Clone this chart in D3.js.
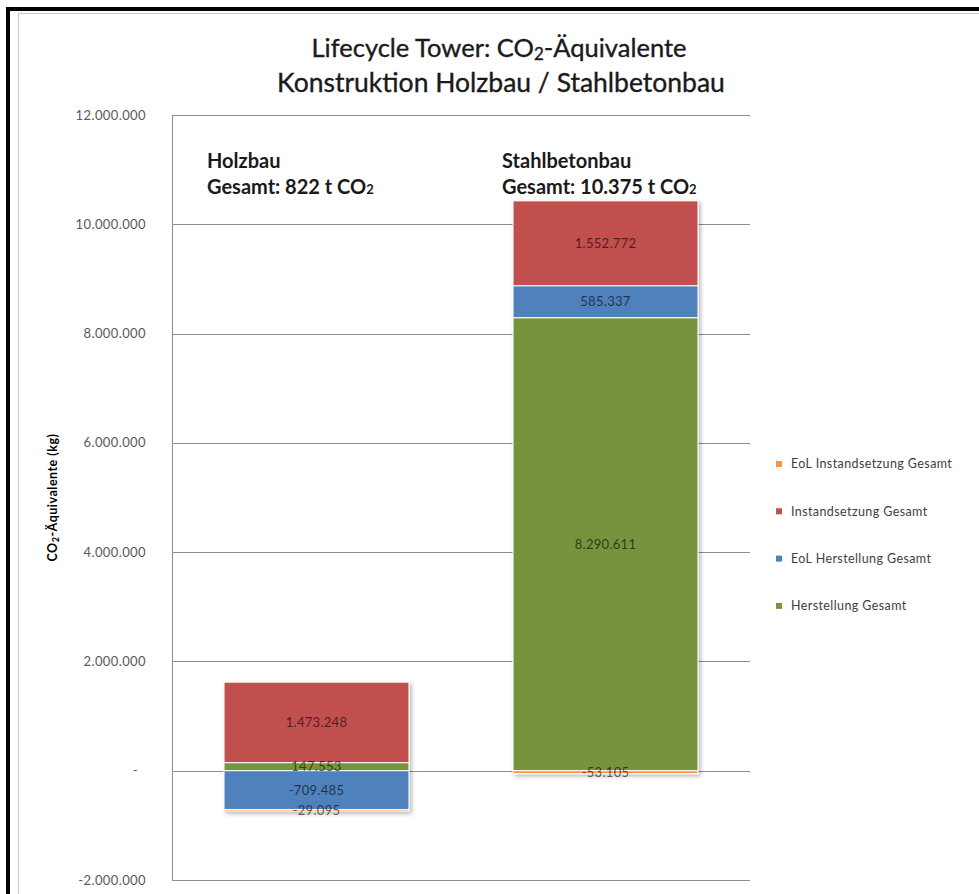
<!DOCTYPE html>
<html lang="de">
<head>
  <meta charset="UTF-8" />
  <title>Lifecycle Tower: CO2-Äquivalente</title>
  <script src="https://d3js.org/d3.v7.min.js"></script>
  <style>
    body { margin: 0; background: #fff; font-family: Lato, "Open Sans", sans-serif; }
    .tick-label { font-size: 13px; letter-spacing: 0.4px; fill: #595959; }
    .legend text { font-size: 12.5px; letter-spacing: 0.4px; fill: #404040; }
    .seg-label { font-size: 13px; letter-spacing: 0.3px; fill: #000; fill-opacity: 0.62; }
  </style>
</head>
<body>
  <svg width="979" height="894"></svg>

  <script>
  // categories, series, values (kg CO2-Äquivalente)
  const buildings = ["Holzbau", "Stahlbetonbau"];
  const seriesNames = ["Herstellung Gesamt", "EoL Herstellung Gesamt", "Instandsetzung  Gesamt", "EoL Instandsetzung  Gesamt"];
  const seriesKeys = ["herst", "eolHerst", "inst", "eolInst"];
  const herstellung = [147553, 8290611];
  const eolHerstellung = [-709485, 585337];
  const instandsetzung = [1473248, 1552772];
  const eolInstandsetzung = [-29095, -53105];
  const totalLabels = ["822", "10.375"];
  const yTicks = [-2000000, 0, 2000000, 4000000, 6000000, 8000000, 10000000, 12000000];
  const colors = ["#77933C", "#4F81BD", "#C0504D", "#F79646"];

  const svg = d3.select("svg");

  // frame
  svg.append("rect").attr("x", 8).attr("y", 9).attr("width", 1000).attr("height", 1000)
    .attr("fill", "none").attr("stroke", "#000").attr("stroke-width", 4);
  svg.append("rect").attr("x", 18.5).attr("y", 13.5).attr("width", 1000).attr("height", 1000)
    .attr("fill", "none").attr("stroke", "#c8c8c8").attr("stroke-width", 1);

  const de = d3.formatLocale({ decimal: ",", thousands: ".", grouping: [3], currency: ["", ""], minus: "-" });
  const fmt = de.format(",.0f");

  const plot = { left: 172, right: 750, top: 115, bottom: 880 };

  const x = d3.scaleBand()
    .domain(buildings)
    .range([plot.left, plot.right])
    .paddingInner(0.36)
    .paddingOuter(0.18);

  const y = d3.scaleLinear()
    .domain([-2000000, 12000000])
    .range([plot.bottom, plot.top]);

  const rows = buildings.map((b, i) => ({
    building: b,
    herst: herstellung[i],
    eolHerst: eolHerstellung[i],
    inst: instandsetzung[i],
    eolInst: eolInstandsetzung[i]
  }));

  const stack = d3.stack().keys(seriesKeys).offset(d3.stackOffsetDiverging);
  const layers = stack(rows);

  // gridlines
  svg.append("g")
    .selectAll("line")
    .data(yTicks)
    .join("line")
    .attr("x1", plot.left).attr("x2", plot.right)
    .attr("y1", d => Math.round(y(d)) + 0.5).attr("y2", d => Math.round(y(d)) + 0.5)
    .attr("stroke", "#8c8c8c").attr("stroke-width", 1);

  svg.append("line")
    .attr("x1", plot.left + 0.5).attr("x2", plot.left + 0.5)
    .attr("y1", plot.top).attr("y2", plot.bottom + 1)
    .attr("stroke", "#8c8c8c");

  // tick labels
  svg.append("g")
    .selectAll("text")
    .data(yTicks)
    .join("text")
    .attr("class", "tick-label")
    .attr("x", d => d === 0 ? 138 : 146)
    .attr("y", d => y(d))
    .attr("dy", "0.35em")
    .attr("text-anchor", "end")
    .text(d => d === 0 ? "-" : fmt(d));

  // y axis title
  const yt = svg.append("text")
    .attr("transform", `translate(57,${(plot.top + plot.bottom) / 2}) rotate(-90)`)
    .attr("text-anchor", "middle")
    .style("font-size", "12.5px")
    .style("font-weight", "bold")
    .style("letter-spacing", "0.5px")
    .attr("fill", "#000");
  yt.append("tspan").text("CO");
  yt.append("tspan").attr("font-size", "9px").attr("dy", 2).text("2");
  yt.append("tspan").attr("dy", -2).text("-Äquivalente (kg)");

  // shadow filter
  const defs = svg.append("defs");
  const f = defs.append("filter").attr("id", "shadow").attr("x", "-10%").attr("y", "-10%")
    .attr("width", "130%").attr("height", "130%");
  f.append("feDropShadow").attr("dx", 2).attr("dy", 2).attr("stdDeviation", 2)
    .attr("flood-color", "#000").attr("flood-opacity", 0.3);

  // bars
  const barG = svg.append("g").attr("filter", "url(#shadow)");
  layers.forEach((layer, li) => {
    barG.append("g")
      .attr("fill", colors[li])
      .selectAll("rect")
      .data(layer)
      .join("rect")
      .attr("x", d => x(d.data.building))
      .attr("width", x.bandwidth())
      .attr("y", d => y(Math.max(d[0], d[1])))
      .attr("height", d => Math.abs(y(d[0]) - y(d[1])))
      .attr("stroke", "#fff")
      .attr("stroke-width", 1);
  });

  // segment labels
  layers.forEach(layer => {
    svg.append("g")
      .selectAll("text")
      .data(layer)
      .join("text")
      .attr("class", "seg-label")
      .attr("x", d => x(d.data.building) + x.bandwidth() / 2)
      .attr("y", d => (y(d[0]) + y(d[1])) / 2)
      .attr("dy", "0.35em")
      .attr("text-anchor", "middle")
      .text(d => fmt(d.data[layer.key]));
  });

  // building annotations
  buildings.forEach((b, i) => {
    const tx = x(b) - (i === 0 ? 17 : 11);
    const g = svg.append("g").style("font-size", "20px").style("font-weight", "bold").attr("fill", "#1a1a1a");
    g.append("text").attr("x", tx).attr("y", 168).text(b);
    const t = g.append("text").attr("x", tx).attr("y", 194);
    t.append("tspan").text(`Gesamt: ${totalLabels[i]} t CO`);
    t.append("tspan").attr("font-size", "13px").text("2");
  });

  // title
  const title = svg.append("g").attr("text-anchor", "middle").style("font-size", "25.5px")
    .attr("fill", "#1a1a1a").attr("stroke", "#1a1a1a").attr("stroke-width", 0.35);
  const t1 = title.append("text").attr("x", 499).attr("y", 57);
  t1.append("tspan").text("Lifecycle Tower: CO");
  t1.append("tspan").attr("font-size", "17px").attr("dy", 3).text("2");
  t1.append("tspan").attr("dy", -3).text("-Äquivalente");
  title.append("text").attr("x", 501).attr("y", 92).style("font-size", "26.5px")
    .text("Konstruktion Holzbau / Stahlbetonbau");

  // legend (reversed order)
  const legend = svg.append("g").attr("class", "legend");
  const legendItems = seriesNames.map((n, i) => ({ name: n, color: colors[i] })).reverse();
  legendItems.forEach((item, i) => {
    const ly = 464 + i * 47.3;
    legend.append("rect").attr("x", 776).attr("y", ly - 3).attr("width", 6).attr("height", 6).attr("fill", item.color);
    legend.append("text").attr("x", 791).attr("y", ly).attr("dy", "0.35em").text(item.name);
  });
  </script>
</body>
</html>
